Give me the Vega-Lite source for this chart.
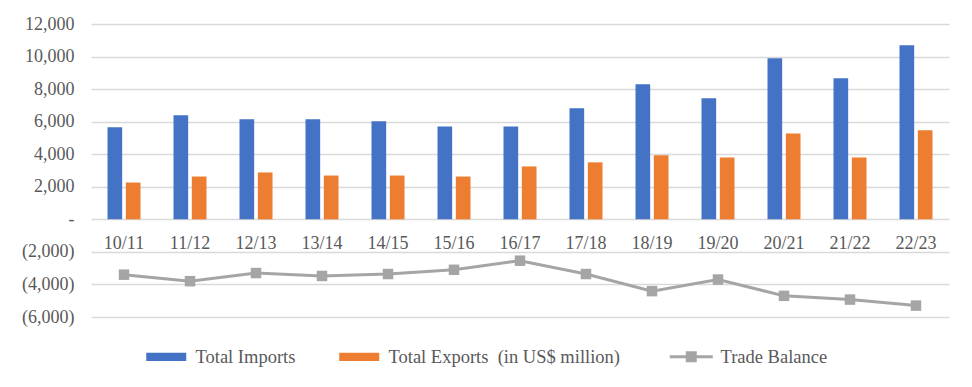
{
  "$schema": "https://vega.github.io/schema/vega-lite/v6.json",
  "width": 858,
  "height": 293,
  "autosize": {"type": "none"},
  "padding": {"left": 91, "top": 24, "right": 23, "bottom": 70},
  "background": "white",
  "config": {
    "view": {"stroke": null},
    "font": "Liberation Serif",
    "axis": {"labelFont": "Liberation Serif", "labelColor": "#595959", "labelFontSize": 18}
  },
  "data": {
    "values": [
      {"year": "10/11", "series": "Total Imports", "value": 5650},
      {"year": "10/11", "series": "Total Exports", "value": 2260},
      {"year": "10/11", "series": "Trade Balance", "value": -3400},
      {"year": "11/12", "series": "Total Imports", "value": 6390},
      {"year": "11/12", "series": "Total Exports", "value": 2630},
      {"year": "11/12", "series": "Trade Balance", "value": -3800},
      {"year": "12/13", "series": "Total Imports", "value": 6150},
      {"year": "12/13", "series": "Total Exports", "value": 2880},
      {"year": "12/13", "series": "Trade Balance", "value": -3300},
      {"year": "13/14", "series": "Total Imports", "value": 6150},
      {"year": "13/14", "series": "Total Exports", "value": 2690},
      {"year": "13/14", "series": "Trade Balance", "value": -3480},
      {"year": "14/15", "series": "Total Imports", "value": 6020},
      {"year": "14/15", "series": "Total Exports", "value": 2690},
      {"year": "14/15", "series": "Trade Balance", "value": -3360},
      {"year": "15/16", "series": "Total Imports", "value": 5710},
      {"year": "15/16", "series": "Total Exports", "value": 2630},
      {"year": "15/16", "series": "Trade Balance", "value": -3100},
      {"year": "16/17", "series": "Total Imports", "value": 5710},
      {"year": "16/17", "series": "Total Exports", "value": 3250},
      {"year": "16/17", "series": "Trade Balance", "value": -2540},
      {"year": "17/18", "series": "Total Imports", "value": 6820},
      {"year": "17/18", "series": "Total Exports", "value": 3500},
      {"year": "17/18", "series": "Trade Balance", "value": -3360},
      {"year": "18/19", "series": "Total Imports", "value": 8300},
      {"year": "18/19", "series": "Total Exports", "value": 3930},
      {"year": "18/19", "series": "Trade Balance", "value": -4410},
      {"year": "19/20", "series": "Total Imports", "value": 7440},
      {"year": "19/20", "series": "Total Exports", "value": 3800},
      {"year": "19/20", "series": "Trade Balance", "value": -3700},
      {"year": "20/21", "series": "Total Imports", "value": 9900},
      {"year": "20/21", "series": "Total Exports", "value": 5280},
      {"year": "20/21", "series": "Trade Balance", "value": -4700},
      {"year": "21/22", "series": "Total Imports", "value": 8670},
      {"year": "21/22", "series": "Total Exports", "value": 3800},
      {"year": "21/22", "series": "Trade Balance", "value": -4930},
      {"year": "22/23", "series": "Total Imports", "value": 10700},
      {"year": "22/23", "series": "Total Exports", "value": 5470},
      {"year": "22/23", "series": "Trade Balance", "value": -5300}
    ]
  },
  "encoding": {
    "x": {
      "field": "year",
      "type": "nominal",
      "sort": null,
      "scale": {"paddingInner": 0.5, "paddingOuter": 0.25},
      "axis": {
        "title": null,
        "orient": "bottom",
        "offset": -98,
        "domain": false,
        "ticks": false,
        "tickSize": 0,
        "labelAngle": 0,
        "labelPadding": 15,
        "labelBaseline": "top"
      }
    },
    "y": {
      "field": "value",
      "type": "quantitative",
      "scale": {"domain": [-6000, 12000], "nice": false, "zero": false},
      "axis": {
        "title": null,
        "values": [-6000, -4000, -2000, 0, 2000, 4000, 6000, 8000, 10000, 12000],
        "domain": false,
        "ticks": false,
        "tickSize": 0,
        "labelPadding": 17,
        "grid": true,
        "gridColor": "#d9d9d9",
        "gridWidth": 1.3,
        "labelExpr": "datum.value == 0 ? '-\u00a0\u00a0\u00a0' : (datum.value < 0 ? '(' + format(-datum.value, ',') + ')' : format(datum.value, ',') + '\u00a0')"
      }
    },
    "color": {
      "field": "series",
      "type": "nominal",
      "scale": {
        "domain": ["Total Imports", "Total Exports", "Trade Balance"],
        "range": ["#4472C4", "#ED7D31", "#A5A5A5"]
      },
      "legend": {
        "title": null,
        "orient": "none",
        "direction": "horizontal",
        "columns": 3,
        "legendX": 66,
        "legendY": 323,
        "padding": 0,
        "symbolSize": 1600,
        "labelOffset": 20,
        "columnPadding": 43,
        "labelLimit": 400,
        "labelFont": "Liberation Serif",
        "labelFontSize": 18.5,
        "labelColor": "#595959",
        "labelExpr": "datum.label == 'Total Exports' ? 'Total Exports\u00a0 (in US$ million)' : datum.label",
        "encode": {
          "symbols": {
            "update": {
              "shape": {"signal": "datum.value == 'Trade Balance' ? 'M-1.075,0H1.075M-0.2,-0.2H0.2V0.2H-0.2Z' : 'M-1,-0.21H1V0.21H-1Z'"},
              "fill": {"signal": "scale('color', datum.value)"},
              "stroke": {"signal": "scale('color', datum.value)"},
              "strokeWidth": {"signal": "datum.value == 'Trade Balance' ? 3 : 0"},
              "opacity": {"value": 1},
              "fillOpacity": {"value": 1},
              "strokeOpacity": {"value": 1}
            }
          }
        }
      }
    }
  },
  "layer": [
    {
      "transform": [{"filter": "datum.series != 'Trade Balance'"}],
      "mark": {"type": "bar"},
      "encoding": {
        "xOffset": {
          "field": "series",
          "type": "nominal",
          "sort": ["Total Imports", "Total Exports"],
          "scale": {"paddingInner": 0.2, "paddingOuter": 0}
        }
      }
    },
    {
      "transform": [{"filter": "datum.series == 'Trade Balance'"}],
      "mark": {
        "type": "line",
        "strokeWidth": 3,
        "point": {"shape": "square", "size": 110, "filled": true, "opacity": 1}
      },
      "encoding": {}
    }
  ]
}
